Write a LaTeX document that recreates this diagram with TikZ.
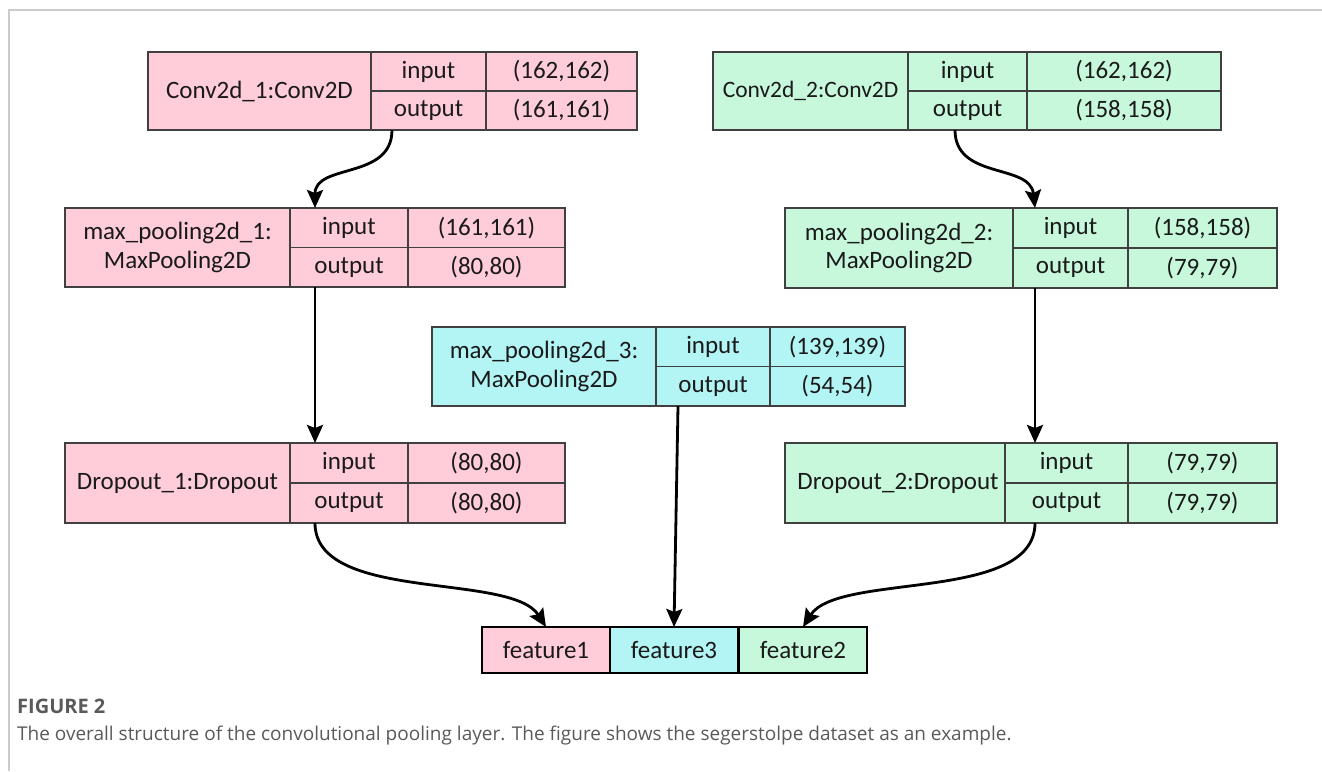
\documentclass[tikz,border=0pt]{standalone}
\usepackage{fontspec}
\setmainfont{Carlito}
\newfontfamily\capfont{Open Sans}
\usetikzlibrary{arrows.meta}
\definecolor{pinkc}{HTML}{FFCCDA}
\definecolor{greenc}{HTML}{C8F8DC}
\definecolor{cyanc}{HTML}{B3F5F5}
\definecolor{edgec}{HTML}{404040}
\definecolor{txtc}{HTML}{1A1A1A}
\definecolor{capc}{HTML}{5A5A5A}
\definecolor{framec}{HTML}{CCCCCC}
\newcommand\layerbox[8]{%
  \pgfmathsetmacro\lbcx{(#3+#6)/2}%
  \pgfmathsetmacro\lbcy{(#7+#8)/2}%
  \pgfmathsetmacro\lbw{#6-#3}%
  \pgfmathsetmacro\lbh{#8-#7}%
  \node[lbox, fill=#2, minimum width=\lbw pt, minimum height=\lbh pt] (#1) at (\lbcx,\lbcy) {};
  \draw[cell] (#4,#7) -- (#4,#8);
  \draw[cell] (#5,#7) -- (#5,#8);
  \draw[cell] (#4,\lbcy) -- (#6,\lbcy);
  \coordinate (#1-n) at ({(#3+#4)/2},\lbcy);
  \coordinate (#1-li) at ({(#4+#5)/2},{(#7+\lbcy)/2});
  \coordinate (#1-lo) at ({(#4+#5)/2},{(#8+\lbcy)/2});
  \coordinate (#1-vi) at ({(#5+#6)/2},{(#7+\lbcy)/2});
  \coordinate (#1-vo) at ({(#5+#6)/2},{(#8+\lbcy)/2});
}
\newcommand\layertext[5]{%
  \node[txt, align=center, #5] (#1-name) at (#1-n) {#2};
  \node[txt] (#1-in) at (#1-li) {input};
  \node[txt] (#1-out) at (#1-lo) {output};
  \node[txt] (#1-inv) at (#1-vi) {#3};
  \node[txt] (#1-outv) at (#1-vo) {#4};
}
\begin{document}
\begin{tikzpicture}[x=1pt,y=-1pt,
  lbox/.style={draw=edgec, line width=1.3pt, inner sep=0pt, outer sep=0pt, rectangle},
  cell/.style={draw=edgec, line width=1.3pt},
  txt/.style={font=\fontsize{25}{28.5}\selectfont, text=txtc, inner sep=0pt},
  fbox/.style={draw=black, line width=2.8pt, inner sep=0pt, outer sep=0pt, minimum width=128pt, minimum height=46pt, font=\fontsize{25}{28}\selectfont, text=txtc},
  conn/.style={line width=2.8pt, -{Stealth[length=18pt,width=16pt,inset=3pt]}},
  ]
\useasboundingbox (0,0) rectangle (1322,771);
\fill[white] (0,0) rectangle (1322,771);
\draw[framec, line width=1.5pt] (9,771) -- (9,10) -- (1322,10);

\layerbox{c1}{pinkc}{148}{371}{486}{637}{52}{130}
\layerbox{c2}{greenc}{713}{908}{1027}{1221}{52}{130}
\layerbox{mp1}{pinkc}{65}{290}{408}{565}{208}{287}
\layerbox{mp2}{greenc}{785}{1013}{1128}{1277}{208}{288}
\layerbox{mp3}{cyanc}{432}{656}{770}{905}{327}{406}
\layerbox{d1}{pinkc}{65}{290}{408}{565}{443}{523}
\layerbox{d2}{greenc}{785}{1005}{1128}{1277}{443}{523}

\layertext{c1}{Conv2d\_1:Conv2D}{(162,162)}{(161,161)}{}
\layertext{c2}{Conv2d\_2:Conv2D}{(162,162)}{(158,158)}{font=\fontsize{23.5}{27}\selectfont}
\layertext{mp1}{max\_pooling2d\_1:\\MaxPooling2D}{(161,161)}{(80,80)}{}
\layertext{mp2}{max\_pooling2d\_2:\\MaxPooling2D}{(158,158)}{(79,79)}{}
\layertext{mp3}{max\_pooling2d\_3:\\MaxPooling2D}{(139,139)}{(54,54)}{}
\layertext{d1}{Dropout\_1:Dropout}{(80,80)}{(80,80)}{}
\layertext{d2}{Dropout\_2:Dropout}{(79,79)}{(79,79)}{xshift=3pt}

\node[fbox, fill=greenc] (f2) at (803,650) {feature2};
\node[fbox, fill=cyanc] (f3) at (674,650) {feature3};
\node[fbox, fill=pinkc] (f1) at (546,650) {feature1};

\draw[conn] ([xshift=244pt]c1.south west) .. controls +(0,50) and +(0,-45) .. ([xshift=250pt]mp1.north west);
\draw[conn] ([xshift=242pt]c2.south west) .. controls +(0,50) and +(-5,-45) .. ([xshift=250pt]mp2.north west);
\draw[conn] ([xshift=250pt]mp1.south west) -- ([xshift=250pt]d1.north west);
\draw[conn] ([xshift=250pt]mp2.south west) -- ([xshift=250pt]d2.north west);
\draw[conn] ([xshift=246pt]mp3.south west) -- (f3.north);
\draw[conn] ([xshift=250pt]d1.south west) .. controls +(0,80) and +(-35,-55) .. (f1.north);
\draw[conn] ([xshift=250pt]d2.south west) .. controls +(0,80) and +(35,-55) .. (f2.north);

\node[anchor=base west, inner sep=0pt, text=capc, font=\capfont\bfseries\fontsize{20}{23}\selectfont] (figlbl) at (17,713) {FIGURE 2};
\node[anchor=base west, inner sep=0pt, text=capc, font=\capfont\fontsize{19}{22}\selectfont] (figcap) at (17,740) {The overall structure of the convolutional pooling layer. The figure shows the segerstolpe dataset as an example.};
\end{tikzpicture}
\end{document}
